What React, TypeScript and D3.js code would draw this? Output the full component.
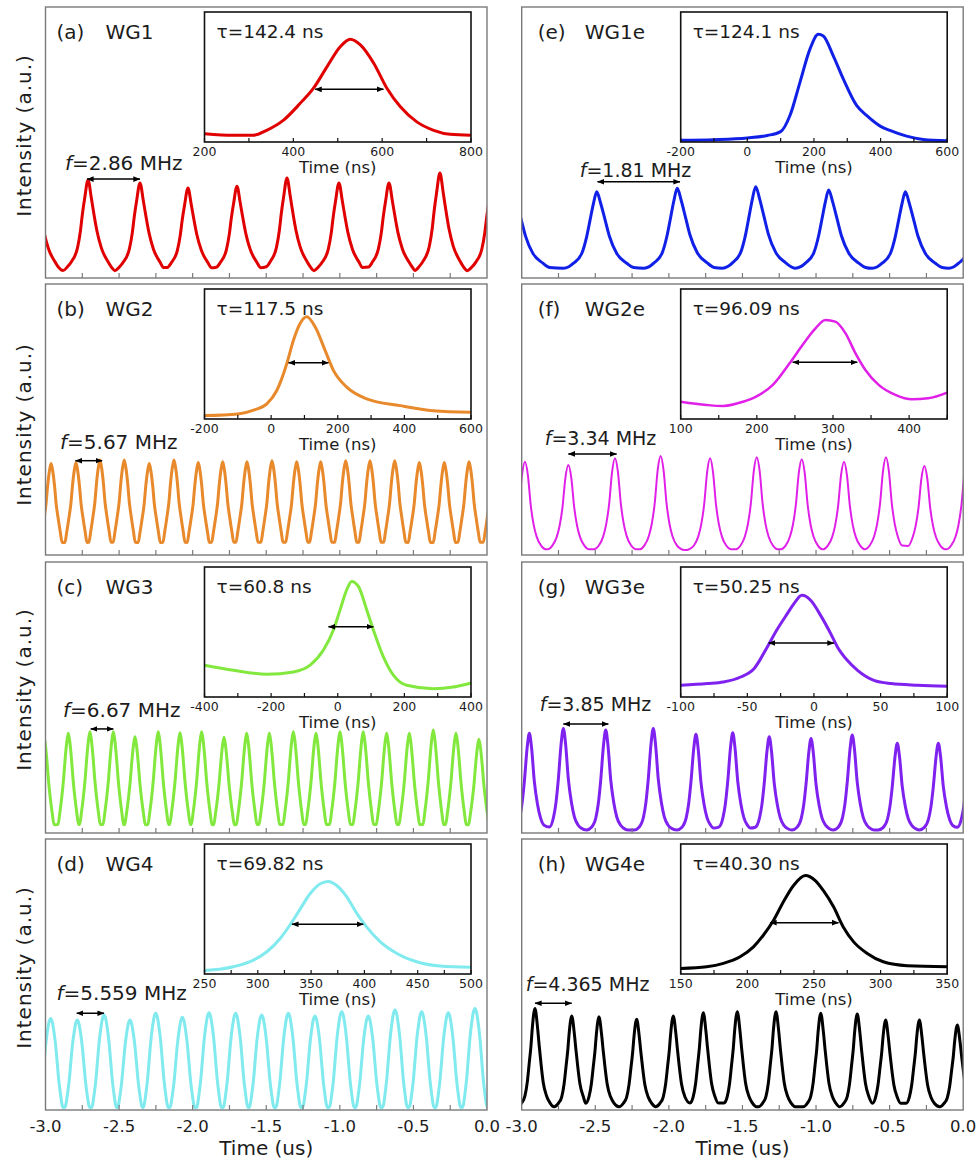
import * as d3 from "d3";

type Pt = [number, number];

const FONT = "'DejaVu Sans', 'Noto Sans', sans-serif";
const INK = "#1c1c1c";

// shared time axis of the pulse trains (us)
const timeTickLabels = [-3.0, -2.5, -2.0, -1.5, -1.0, -0.5, 0.0];

// ---------- (a) WG1 ----------
const wg1Peaks = [-3.07, -2.711, -2.358, -2.032, -1.699, -1.359, -1.006, -0.666, -0.32, 0.037];
const wg1Heights = [35, 36.2, 35.1, 33.2, 33.9, 36.9, 35.1, 35.1, 38.7, 35];
const wg1Pulse: Pt[] = [[-0.17, 0.03], [-0.14, 0.07], [-0.113, 0.125], [-0.072, 0.27], [-0.052, 0.45], [-0.039, 0.625], [-0.023, 0.8], [0, 1], [0.023, 0.8], [0.041, 0.625], [0.061, 0.45], [0.091, 0.27], [0.136, 0.125], [0.16, 0.065], [0.19, 0.03]];
const wg1Inset: Pt[] = [[200, 6.4], [265, 5.2], [310, 5.2], [340, 9.0], [378, 16.8], [415, 29.6], [445, 41.2], [476, 58.0], [506, 73.5], [528, 79.1], [551, 74.7], [581, 60.6], [611, 41.2], [641, 27.1], [678, 15.5], [716, 9.0], [753, 5.9], [800, 5.2]];

// ---------- (b) WG2 ----------
const wg2Peaks = [-3.13, -2.962, -2.793, -2.63, -2.465, -2.295, -2.127, -1.962, -1.796, -1.631, -1.461, -1.293, -1.13, -0.96, -0.795, -0.627, -0.46, -0.29, -0.122, 0.05];
const wg2Heights = [34, 33.8, 34.1, 35.1, 35.1, 33.8, 35.1, 34.1, 34.4, 34.4, 34.8, 34.4, 34.4, 34.8, 34.8, 34.8, 34.1, 34.1, 34.4, 34.4];
const wg2Pulse: Pt[] = [[-0.075, 0.05], [-0.063, 0.17], [-0.048, 0.34], [-0.034, 0.52], [-0.024, 0.72], [-0.012, 0.9], [0, 1], [0.012, 0.9], [0.024, 0.72], [0.034, 0.52], [0.048, 0.34], [0.063, 0.17], [0.075, 0.05]];
const wg2Inset: Pt[] = [[-200, 2.6], [-100, 3.9], [-50, 7.0], [-13, 11.6], [17, 21.9], [47, 42.5], [67, 60.6], [87, 73.5], [107, 78.6], [132, 70.9], [162, 52.8], [187, 37.4], [227, 24.5], [287, 15.5], [387, 10.3], [487, 6.4], [600, 5.2]];

// ---------- (c) WG3 ----------
const wg3Peaks = [-3.012, -2.845, -2.698, -2.539, -2.392, -2.234, -2.086, -1.939, -1.787, -1.633, -1.479, -1.316, -1.162, -0.999, -0.841, -0.682, -0.528, -0.365, -0.211, -0.055, 0.1];
const wg3Heights = [36, 36.8, 37.4, 37.4, 35.5, 37.4, 37.0, 37.4, 35.3, 36.8, 36.8, 37.4, 36.8, 37.4, 37.4, 36.8, 36.8, 38.0, 36.8, 34.6, 36];
const wg3Pulse: Pt[] = [[-0.07, 0.04], [-0.058, 0.16], [-0.045, 0.32], [-0.032, 0.52], [-0.022, 0.72], [-0.011, 0.9], [0, 1], [0.011, 0.9], [0.022, 0.72], [0.032, 0.52], [0.045, 0.32], [0.058, 0.16], [0.07, 0.04]];
const wg3Inset: Pt[] = [[-400, 24.5], [-313, 20.6], [-213, 17.5], [-133, 19.3], [-83, 24.5], [-43, 36.1], [-13, 51.5], [7, 67.0], [27, 82.5], [42, 88.9], [62, 85.1], [87, 67.0], [107, 51.5], [137, 30.9], [167, 16.8], [207, 9.0], [287, 6.4], [347, 7.7], [400, 10.8]];

// ---------- (d) WG4 ----------
const wg4Peaks = [-3.145, -2.965, -2.784, -2.602, -2.426, -2.251, -2.07, -1.889, -1.708, -1.531, -1.35, -1.169, -0.987, -0.807, -0.625, -0.444, -0.263, -0.082, 0.1];
const wg4Heights = [34, 33.8, 33.2, 35.1, 33.2, 35.7, 34.2, 35.9, 35.7, 35.1, 35.7, 34.7, 36.3, 34.7, 36.9, 36.3, 35.9, 37.5, 36];
const wg4Pulse: Pt[] = [[-0.085, 0.01], [-0.078, 0.04], [-0.0675, 0.15], [-0.056, 0.3], [-0.045, 0.5], [-0.034, 0.7], [-0.0225, 0.85], [-0.011, 0.96], [0, 1], [0.011, 0.96], [0.0225, 0.85], [0.034, 0.7], [0.045, 0.5], [0.056, 0.3], [0.0675, 0.15], [0.078, 0.04], [0.085, 0.01]];
const wg4Inset: Pt[] = [[250, 2.6], [277, 5.6], [296, 10.7], [308.5, 17.1], [321, 27.3], [330, 37.5], [340, 50.3], [349, 61.7], [358.6, 69.4], [366, 71.2], [374, 68.1], [383.6, 59.2], [393, 46.4], [402, 36.2], [415, 24.7], [430.5, 15.8], [449, 9.4], [471, 6.1], [500, 5.1]];

// ---------- (e) WG1e ----------
const wg1ePeaks = [-3.06, -2.49, -1.943, -1.41, -0.914, -0.393, 0.127];
const wg1eHeights = [32, 31.8, 33.1, 33.7, 32.5, 31.8, 32];
const wg1ePulse: Pt[] = [[-0.226, 0.02], [-0.19, 0.04], [-0.158, 0.085], [-0.102, 0.21], [-0.068, 0.43], [-0.0453, 0.64], [-0.0226, 0.85], [0, 1], [0.027, 0.85], [0.0566, 0.64], [0.086, 0.43], [0.136, 0.21], [0.204, 0.085], [0.25, 0.03], [0.294, 0.02]];
const wg1eInset: Pt[] = [[-200, 1.3], [-100, 1.8], [0, 3.1], [60, 5], [100, 8.0], [128, 20.4], [158, 45.9], [188, 71.4], [213, 82.9], [228, 81.6], [258, 66.3], [288, 48.5], [328, 28.1], [358, 20.4], [400, 12], [428, 8.9], [478, 4.5], [528, 2.0], [600, 1.0]];

// ---------- (f) WG2e ----------
const wg2ePeaks = [-3.28, -2.978, -2.683, -2.366, -2.056, -1.72, -1.403, -1.097, -0.81, -0.525, -0.264, 0.027];
const wg2eHeights = [35, 34.4, 33.2, 35.7, 36.5, 35.7, 36.1, 35.3, 34.4, 36.1, 32.8, 34];
const wg2ePulse: Pt[] = [[-0.16, 0.0], [-0.14, 0.01], [-0.11, 0.05], [-0.08, 0.15], [-0.06, 0.28], [-0.04, 0.5], [-0.02, 0.85], [0, 1], [0.02, 0.85], [0.04, 0.5], [0.06, 0.28], [0.08, 0.15], [0.11, 0.05], [0.14, 0.01], [0.16, 0.0]];
const wg2eInset: Pt[] = [[100, 13.3], [134, 10.8], [156, 10.0], [182, 13.3], [199, 17.2], [221, 26.2], [243, 42.8], [260, 56.9], [277, 69.7], [290, 76.2], [303, 74.9], [316.5, 65.9], [329.6, 50.5], [342.6, 37.7], [360, 26.2], [382, 18.5], [403.5, 15.1], [425, 15.9], [450, 20.3]];

// ---------- (g) WG3e ----------
const wg3ePeaks = [-3.2, -2.948, -2.717, -2.429, -2.106, -1.816, -1.566, -1.318, -1.034, -0.754, -0.448, -0.169, 0.055];
const wg3eHeights = [36, 36.8, 38.6, 38.0, 38.6, 36.4, 37.0, 35.5, 34.9, 36.2, 33.1, 33.1, 35];
const wg3ePulse: Pt[] = [[-0.13, 0.0], [-0.095, 0.03], [-0.066, 0.13], [-0.05, 0.27], [-0.034, 0.5], [-0.015, 0.85], [0, 1], [0.015, 0.85], [0.034, 0.5], [0.055, 0.27], [0.075, 0.13], [0.1, 0.05], [0.12, 0.02], [0.15, 0.0]];
const wg3eInset: Pt[] = [[-100, 9.0], [-80, 10.3], [-68, 11.5], [-55, 15.4], [-45, 21.8], [-35, 38.5], [-28, 51.3], [-20, 64.1], [-15, 71.8], [-9, 78.2], [-2.5, 74.4], [5, 62.8], [12.6, 48.7], [17.6, 38.5], [25, 28.2], [32.7, 20.5], [45, 12.8], [58, 10.3], [78, 9.0], [100, 8.2]];

// ---------- (h) WG4e ----------
const wg4ePeaks = [-3.16, -2.91, -2.66, -2.475, -2.219, -1.97, -1.766, -1.535, -1.272, -0.968, -0.72, -0.527, -0.298, -0.04];
const wg4eHeights = [35, 37.5, 34.7, 34.4, 33.5, 34.7, 35.9, 36.3, 36.3, 35.7, 35.4, 33.2, 33.2, 31.4];
const wg4ePulse: Pt[] = [[-0.12, 0.0], [-0.09, 0.04], [-0.068, 0.11], [-0.052, 0.25], [-0.039, 0.44], [-0.027, 0.62], [-0.018, 0.8], [0, 1], [0.018, 0.8], [0.029, 0.62], [0.041, 0.44], [0.056, 0.25], [0.079, 0.11], [0.102, 0.04], [0.13, 0.0]];
const wg4eInset: Pt[] = [[150, 4.3], [169.5, 5.6], [182, 8.2], [194.6, 13.3], [204.6, 20.9], [212, 29.8], [219.7, 41.3], [227, 55.4], [234.7, 68.1], [243.5, 75.8], [251, 71.9], [257, 64.3], [264.8, 51.5], [272, 36.2], [279.8, 24.7], [290, 15.8], [302, 9.4], [320, 6.4], [350, 5.6]];

interface Panel {
  tag: string;
  name: string;
  color: string;
  peaks: number[];
  heights: number[];
  base: number;
  pulse: Pt[];
  freq: string;
  arrow: [number, number, number];
  tau: string;
  inset: Pt[];
  insetDomain: [number, number];
  insetTick: number;
  insetLabel: number;
  insetArrow: [number, number, number] | null;
}

const panels: Panel[] = [
  { tag: "(a)", name: "WG1", color: "#e00000", peaks: wg1Peaks, heights: wg1Heights, base: 1.7, pulse: wg1Pulse, freq: "2.86", arrow: [-2.718, -2.358, 36.5], tau: "142.4", inset: wg1Inset, insetDomain: [200, 800], insetTick: 100, insetLabel: 200, insetArrow: [449, 603, 40.5] },
  { tag: "(b)", name: "WG2", color: "#e8892b", peaks: wg2Peaks, heights: wg2Heights, base: 3.1, pulse: wg2Pulse, freq: "5.67", arrow: [-2.797, -2.615, 34.8], tau: "117.5", inset: wg2Inset, insetDomain: [-200, 600], insetTick: 100, insetLabel: 200, insetArrow: [52, 172, 43.3] },
  { tag: "(c)", name: "WG3", color: "#82e83e", peaks: wg3Peaks, heights: wg3Heights, base: 1.7, pulse: wg3Pulse, freq: "6.67", arrow: [-2.693, -2.539, 38.4], tau: "60.8", inset: wg3Inset, insetDomain: [-400, 400], insetTick: 100, insetLabel: 200, insetArrow: [-28, 107, 54.1] },
  { tag: "(d)", name: "WG4", color: "#80eaee", peaks: wg4Peaks, heights: wg4Heights, base: 0.6, pulse: wg4Pulse, freq: "5.559", arrow: [-2.788, -2.602, 35.7], tau: "69.82", inset: wg4Inset, insetDomain: [250, 500], insetTick: 25, insetLabel: 50, insetArrow: [332, 399, 38.3] },
  { tag: "(e)", name: "WG1e", color: "#1020e6", peaks: wg1ePeaks, heights: wg1eHeights, base: 3.0, pulse: wg1ePulse, freq: "1.81", arrow: [-2.485, -1.924, 35.5], tau: "124.1", inset: wg1eInset, insetDomain: [-200, 600], insetTick: 100, insetLabel: 200, insetArrow: null },
  { tag: "(f)", name: "WG2e", color: "#e020e8", peaks: wg2ePeaks, heights: wg2eHeights, base: 1.8, pulse: wg2ePulse, freq: "3.34", arrow: [-2.683, -2.355, 37.3], tau: "96.09", inset: wg2eInset, insetDomain: [100, 450], insetTick: 50, insetLabel: 100, insetArrow: [247, 332, 43.6] },
  { tag: "(g)", name: "WG3e", color: "#7f22f0", peaks: wg3ePeaks, heights: wg3eHeights, base: 1.1, pulse: wg3ePulse, freq: "3.85", arrow: [-2.717, -2.411, 40.2], tau: "50.25", inset: wg3eInset, insetDomain: [-100, 100], insetTick: 25, insetLabel: 50, insetArrow: [-34, 15, 41.5] },
  { tag: "(h)", name: "WG4e", color: "#000000", peaks: wg4ePeaks, heights: wg4eHeights, base: 1.2, pulse: wg4ePulse, freq: "4.365", arrow: [-2.91, -2.66, 39.4], tau: "40.30", inset: wg4eInset, insetDomain: [150, 350], insetTick: 25, insetLabel: 50, insetArrow: [217, 268.5, 39.5] },
];

// layout
const COLS = [45.5, 521.7];
const ROWS = [7, 284, 562, 839];
const PW = 441.5;
const PH = 271;
const INSET = { dx: 159, dy: 5, w: 266.5, h: 130 };
const freqOffsets: Pt[] = [[19.5, 163], [14.5, 165], [17.5, 155], [11, 161], [58, 170], [23, 161], [18, 149], [4, 152]];
const yLabelShift = [-7, 5, -8, -7];

// place the read pulse profile on every read peak, each pulse kept to its own half-spacing
function trainPoints(p: Panel): Pt[] {
  const pts: Pt[] = [];
  p.peaks.forEach((t0, i) => {
    const lo = i > 0 ? (p.peaks[i - 1] + t0) / 2 : -Infinity;
    const hi = i < p.peaks.length - 1 ? (p.peaks[i + 1] + t0) / 2 : Infinity;
    p.pulse.forEach(([dt, rel]) => {
      const t = t0 + dt;
      if (t > lo && t < hi) pts.push([t, p.base + rel * (p.heights[i] - p.base)]);
    });
  });
  return pts;
}

const PanelView = ({ p, i }: { p: Panel; i: number }) => {
  const col = i < 4 ? 0 : 1;
  const row = i % 4;
  const x0 = COLS[col];
  const y0 = ROWS[row];
  const x = d3.scaleLinear().domain([-3, 0]).range([x0, x0 + PW]);
  const y = d3.scaleLinear().domain([0, 100]).range([y0 + PH, y0]);
  const trace = d3
    .line<Pt>()
    .x((d) => x(d[0]))
    .y((d) => y(d[1]))
    .curve(d3.curveMonotoneX)(trainPoints(p));

  const ix0 = x0 + INSET.dx;
  const iy0 = y0 + INSET.dy;
  const ix = d3.scaleLinear().domain(p.insetDomain).range([ix0, ix0 + INSET.w]);
  const iy = d3.scaleLinear().domain([0, 100]).range([iy0 + INSET.h, iy0]);
  const insetPath = d3
    .line<Pt>()
    .x((d) => ix(d[0]))
    .y((d) => iy(d[1]))
    .curve(d3.curveMonotoneX)(p.inset);
  const insetTicks = d3.range(p.insetDomain[0], p.insetDomain[1] + 1e-6, p.insetTick);
  const insetLabels = d3.range(
    Math.ceil(p.insetDomain[0] / p.insetLabel) * p.insetLabel,
    p.insetDomain[1] + 1e-6,
    p.insetLabel,
  );
  const minorTicks = d3.range(-2.75, -0.01, 0.25);
  const [fx, fy] = freqOffsets[i];
  const lw = p.name === "WG2e" ? 2 : 3;

  return (
    <g>
      <clipPath id={`clip${i}`}>
        <rect x={x0} y={y0} width={PW} height={PH} />
      </clipPath>
      <path d={trace ?? ""} fill="none" stroke={p.color} strokeWidth={lw} strokeLinejoin="round" clipPath={`url(#clip${i})`} />
      <rect x={x0} y={y0} width={PW} height={PH} fill="none" stroke="#7a7a7a" strokeWidth={1.4} />
      {minorTicks.map((t) => (
        <line key={t} x1={x(t)} x2={x(t)} y1={y0 + PH} y2={y0 + PH - 5} stroke="#7a7a7a" strokeWidth={1.2} />
      ))}

      {/* panel tag */}
      <text x={x0 + (col ? 16 : 11)} y={y0 + 32} fontSize={20} fill={INK}>{p.tag}</text>
      <text x={x0 + (col ? 63 : 60)} y={y0 + 32} fontSize={20} fill={INK}>{p.name}</text>

      {/* repetition rate */}
      <text x={x0 + fx} y={y0 + fy} fontSize={col ? 19 : 20} fill={INK}>
        <tspan fontStyle="italic">f</tspan>={p.freq} MHz
      </text>
      <line x1={x(p.arrow[0])} x2={x(p.arrow[1])} y1={y(p.arrow[2])} y2={y(p.arrow[2])} stroke="#000" strokeWidth={1.5} markerStart="url(#ah)" markerEnd="url(#ah)" />

      {/* inset */}
      <path d={insetPath ?? ""} fill="none" stroke={p.color} strokeWidth={lw === 2 ? 2.5 : 3} strokeLinejoin="round" />
      <rect x={ix0} y={iy0} width={INSET.w} height={INSET.h} fill="none" stroke="#111" strokeWidth={1.6} />
      {insetTicks.map((t) => (
        <line key={t} x1={ix(t)} x2={ix(t)} y1={iy0 + INSET.h} y2={iy0 + INSET.h - 4} stroke="#111" strokeWidth={1.2} />
      ))}
      {insetLabels.map((t) => (
        <text key={t} x={ix(t)} y={y0 + 145} dy="0.35em" fontSize={12.5} textAnchor="middle" fill={INK}>{t}</text>
      ))}
      <text x={ix0 + INSET.w / 2} y={y0 + 160} dy="0.35em" fontSize={16.5} textAnchor="middle" fill={INK}>Time (ns)</text>
      <text x={x0 + 171} y={y0 + 31} fontSize={18.5} fill={INK}>τ={p.tau} ns</text>
      {p.insetArrow && (
        <line x1={ix(p.insetArrow[0])} x2={ix(p.insetArrow[1])} y1={iy(p.insetArrow[2])} y2={iy(p.insetArrow[2])} stroke="#000" strokeWidth={1.5} markerStart="url(#ah)" markerEnd="url(#ah)" />
      )}

      {col === 0 && (
        <text
          transform={`translate(24,${y0 + PH / 2 + yLabelShift[row]}) rotate(-90)`}
          dy="0.35em"
          fontSize={20}
          letterSpacing={1}
          textAnchor="middle"
          fill={INK}
        >
          Intensity (a.u.)
        </text>
      )}

      {row === 3 && (
        <g>
          {timeTickLabels.map((t) => (
            <text key={t} x={x(t)} y={y0 + PH + 22} fontSize={16.5} textAnchor="middle" fill={INK}>{t.toFixed(1)}</text>
          ))}
          <text x={x0 + PW / 2} y={y0 + PH + 45} fontSize={20} textAnchor="middle" fill={INK}>Time (us)</text>
        </g>
      )}
    </g>
  );
};

export default function App() {
  return (
    <svg
      width={979}
      height={1164}
      viewBox="0 0 979 1164"
      fontFamily={FONT}
      style={{ position: "absolute", left: 0, top: 0, background: "#fff" }}
    >
      <defs>
        <marker id="ah" viewBox="0 0 10 10" refX={9.5} refY={5} markerWidth={7} markerHeight={7} markerUnits="userSpaceOnUse" orient="auto-start-reverse">
          <path d="M0,1 L10,5 L0,9 z" fill="#000" />
        </marker>
      </defs>
      <rect width={979} height={1164} fill="#fff" />
      {panels.map((p, i) => (
        <PanelView key={p.name} p={p} i={i} />
      ))}
    </svg>
  );
}
